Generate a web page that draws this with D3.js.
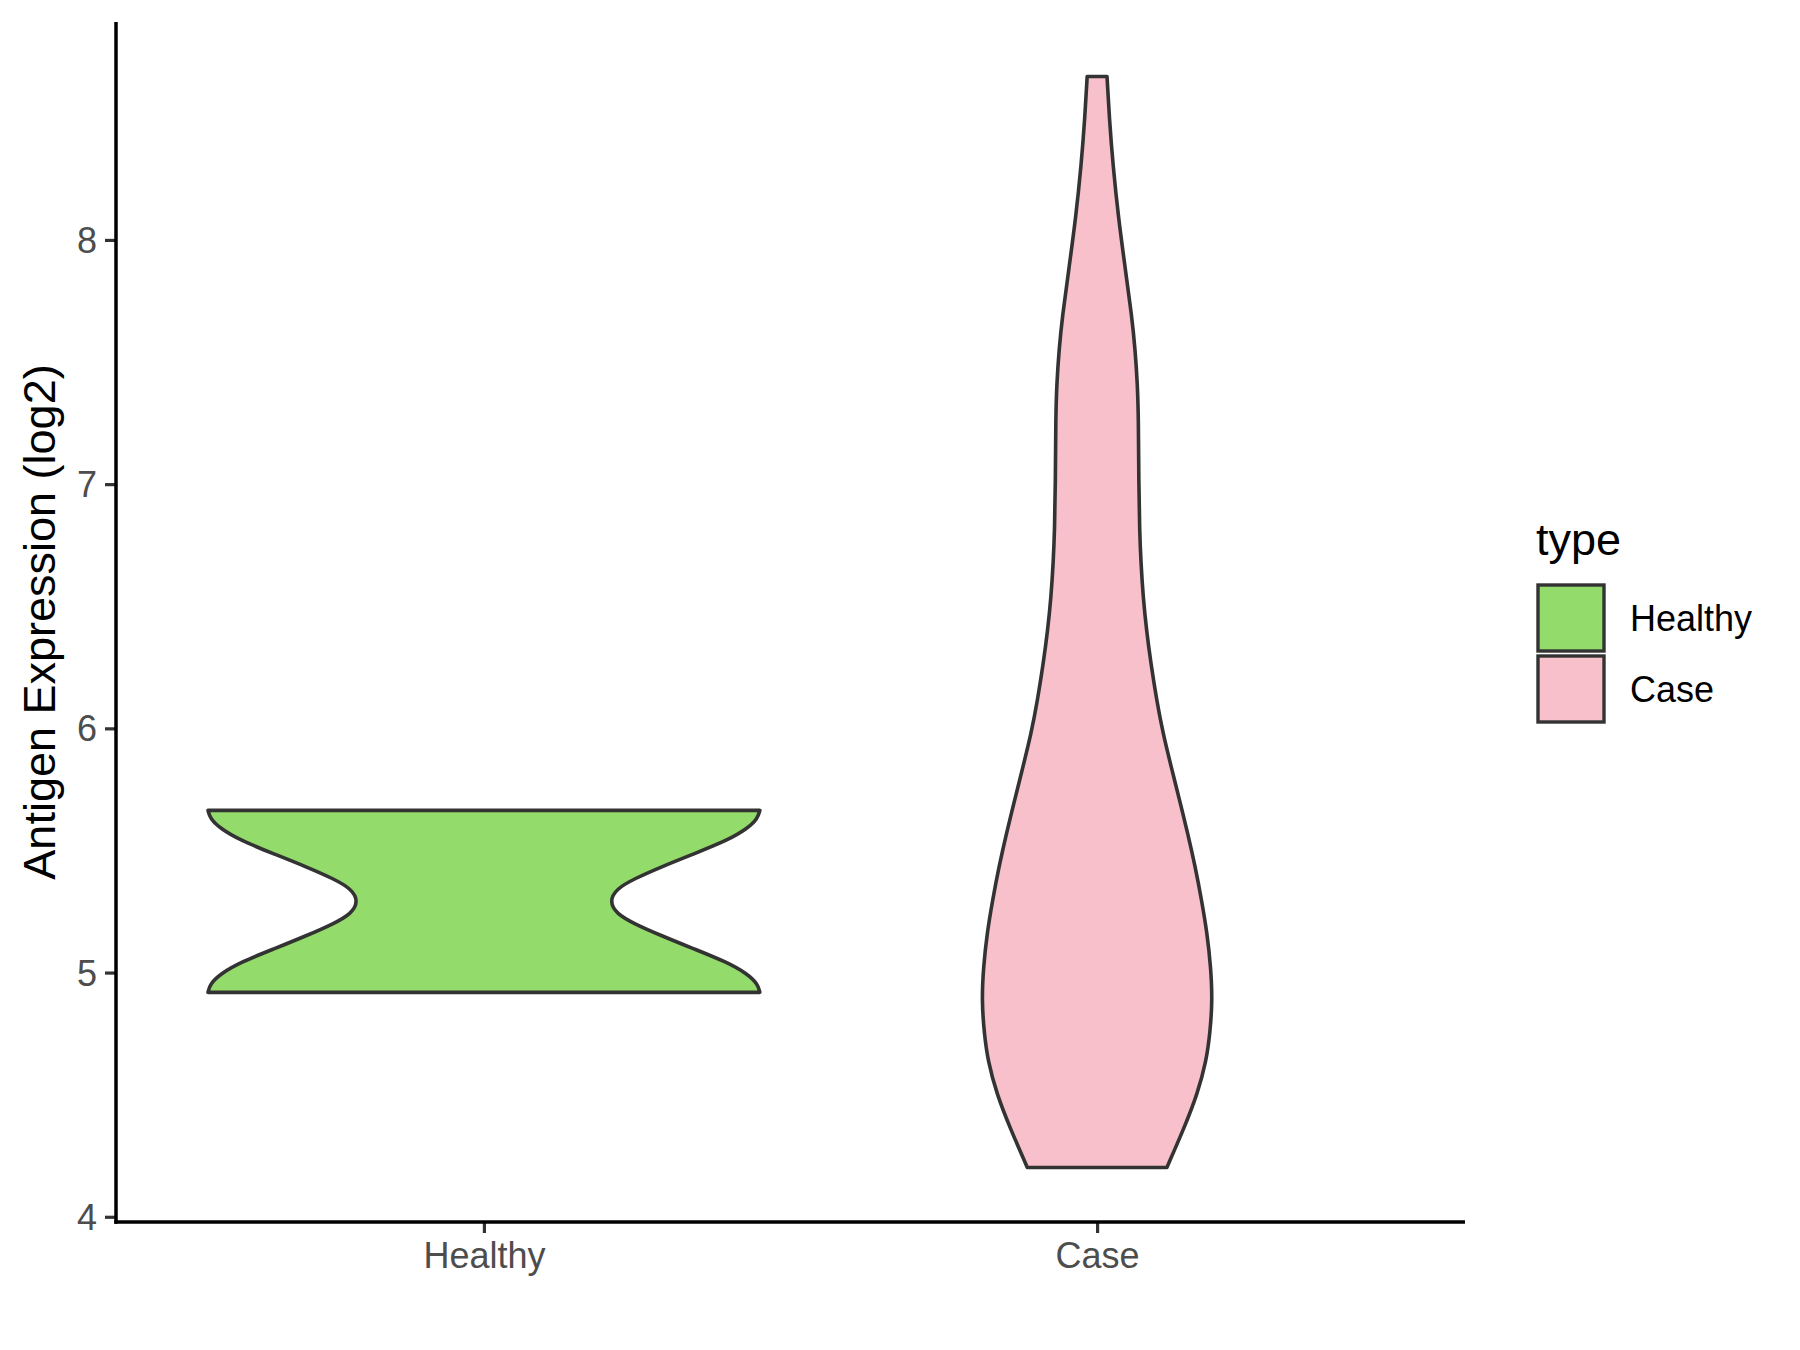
<!DOCTYPE html>
<html>
<head>
<meta charset="utf-8">
<script src="https://cdn.jsdelivr.net/npm/d3@7"></script>
<style>
  html, body { margin: 0; padding: 0; background: #ffffff; }
  svg { display: block; }
  text { font-family: "Liberation Sans", Arial, Helvetica, sans-serif; }
</style>
</head>
<body>
<script>
// ---------- DATA ----------
const categories = ["Healthy", "Case"];
const fillColors = ["#93DB6A", "#F7C0CB"];
const yTicks = [4, 5, 6, 7, 8];

// Violin outlines: expression value and relative half-width (density, scaled so widest = 1)
const healthyValues  = [4.919, 4.954, 4.995, 5.042, 5.097, 5.152, 5.200, 5.241, 5.292,
                        5.343, 5.384, 5.432, 5.486, 5.541, 5.589, 5.630, 5.664];
const healthyDensity = [1.000, 0.992, 0.954, 0.882, 0.761, 0.641, 0.545, 0.480, 0.455,
                        0.480, 0.545, 0.641, 0.761, 0.882, 0.954, 0.992, 1.000];

const caseValues  = [4.202, 4.365, 4.504, 4.639, 4.750, 4.885, 5.022, 5.159, 5.295, 5.432,
                     5.568, 5.705, 5.841, 5.978, 6.115, 6.266, 6.402, 6.537, 6.676,
                     6.811, 7.004, 7.276, 7.414, 7.549, 7.686, 7.891, 8.095, 8.300, 8.505, 8.669];
const caseDensity = [0.253, 0.316, 0.364, 0.396, 0.409, 0.418, 0.412, 0.399, 0.379, 0.356,
                     0.329, 0.299, 0.269, 0.239, 0.216, 0.195, 0.179, 0.167, 0.159,
                     0.154, 0.151, 0.150, 0.146, 0.138, 0.126, 0.101, 0.077, 0.058, 0.044, 0.036];

const yLabel = "Antigen Expression (log2)";
const legendTitle = "type";

// ---------- LAYOUT ----------
const W = 1800, H = 1350;
const panel = { left: 116, right: 1465, top: 22, bottom: 1222 };

const svg = d3.select("body").append("svg")
  .attr("width", W).attr("height", H);

const yMin = 4.202, yMax = 8.669, pad = (yMax - yMin) * 0.05;
const y = d3.scaleLinear()
  .domain([yMin - pad, yMax + pad])
  .range([panel.bottom, panel.top]);

const x = d3.scalePoint()
  .domain(categories)
  .range([panel.left, panel.right])
  .padding(0.6);

const step = x.step();
const w = d3.scaleLinear().domain([0, 1]).range([0, 0.45 * step]);

const series = [
  { cat: "Healthy", values: healthyValues, dens: healthyDensity, fill: fillColors[0] },
  { cat: "Case",    values: caseValues,    dens: caseDensity,    fill: fillColors[1] }
];

// ---------- VIOLINS ----------
series.forEach(s => {
  const cx = x(s.cat);
  const pts = s.values.map((v, i) => ({ v, d: s.dens[i] }));
  const area = d3.area()
    .y(d => y(d.v))
    .x0(d => cx - w(d.d))
    .x1(d => cx + w(d.d))
    .curve(d3.curveBasis);
  svg.append("path")
    .attr("d", area(pts))
    .attr("fill", s.fill)
    .attr("stroke", "#333333")
    .attr("stroke-width", 3.6)
    .attr("stroke-linejoin", "round");
});

// ---------- AXES ----------
const yAxis = d3.axisLeft(y).tickValues(yTicks).tickSize(11).tickPadding(8).tickFormat(d3.format("d"));
const gy = svg.append("g").attr("transform", `translate(${panel.left},0)`).call(yAxis);
gy.select(".domain").remove();
gy.selectAll(".tick line").attr("stroke", "#333333").attr("stroke-width", 3.2);
gy.selectAll(".tick text").attr("fill", "#4D4D4D").style("font-size", "36px")
  .attr("font-family", "Liberation Sans, Arial, sans-serif").attr("dy", "0.35em");

const xAxis = d3.axisBottom(x).tickSize(11).tickPadding(9);
const gx = svg.append("g").attr("transform", `translate(0,${panel.bottom})`).call(xAxis);
gx.select(".domain").remove();
gx.selectAll(".tick line").attr("stroke", "#333333").attr("stroke-width", 3.2);
gx.selectAll(".tick text").attr("fill", "#4D4D4D").style("font-size", "36px")
  .attr("font-family", "Liberation Sans, Arial, sans-serif").attr("dy", "0.71em");

// axis lines
svg.append("line")
  .attr("x1", panel.left).attr("x2", panel.left)
  .attr("y1", panel.top).attr("y2", panel.bottom + 1.75)
  .attr("stroke", "#000").attr("stroke-width", 3.5);
svg.append("line")
  .attr("x1", panel.left - 1.75).attr("x2", panel.right)
  .attr("y1", panel.bottom).attr("y2", panel.bottom)
  .attr("stroke", "#000").attr("stroke-width", 3.5);

// y label
svg.append("text")
  .attr("transform", `translate(55,${(panel.top + panel.bottom) / 2}) rotate(-90)`)
  .attr("text-anchor", "middle")
  .style("font-size", "45px")
  .attr("fill", "#000")
  .text(yLabel);

// ---------- LEGEND ----------
const lg = svg.append("g");
lg.append("text").attr("x", 1536).attr("y", 555).style("font-size", "45px").attr("fill", "#000").text(legendTitle);
categories.forEach((c, i) => {
  const ky = 585 + i * 71;
  lg.append("rect")
    .attr("x", 1538).attr("y", ky).attr("width", 66).attr("height", 66)
    .attr("fill", fillColors[i]).attr("stroke", "#333333").attr("stroke-width", 3.4);
  lg.append("text")
    .attr("x", 1630).attr("y", ky + 33 + 13)
    .style("font-size", "36px").attr("fill", "#000").text(c);
});
</script>
</body>
</html>
